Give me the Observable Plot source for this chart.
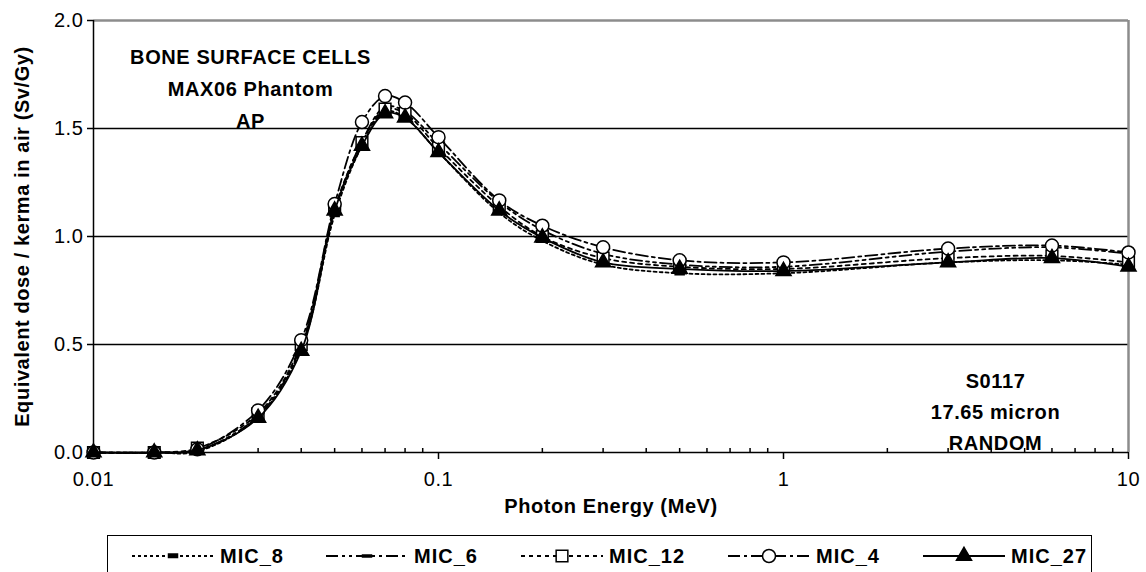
<!DOCTYPE html>
<html>
<head>
<meta charset="utf-8">
<script src="https://cdn.jsdelivr.net/npm/d3@7"></script>
<script src="https://cdn.jsdelivr.net/npm/@observablehq/plot@0.6"></script>
<style>
  body { margin: 0; background: #fff; font-family: "Liberation Sans", Arial, sans-serif; }
  #wrap { position: relative; width: 1146px; height: 572px; overflow: hidden; background: #fff; }
  #legend { position: absolute; left: 107px; top: 535px; width: 985px; height: 60px;
            border: 1.5px solid #000; box-sizing: border-box; background: #fff; }
  #legend .item { position: absolute; top: 8px; display: flex; align-items: center; }
  #legend .item span { font-weight: bold; font-size: 20px; letter-spacing: 1px; margin-left: 6px; }
</style>
</head>
<body>
<div id="wrap">
  <div id="chart"></div>
  <div id="legend"></div>
</div>
<script>
// Photon energies (MeV)
const energy = [0.01, 0.015, 0.02, 0.03, 0.04, 0.05, 0.06, 0.07, 0.08, 0.1, 0.15, 0.2, 0.3, 0.5, 1, 3, 6, 10];

// Equivalent dose / kerma in air (Sv/Gy) per micro-CT sample
const mic8  = [0, 0, 0.005, 0.165, 0.48, 1.10, 1.42, 1.58, 1.55, 1.39, 1.11, 0.98, 0.87, 0.83, 0.83, 0.88, 0.89, 0.87];
const mic6  = [0, 0, 0.010, 0.170, 0.49, 1.12, 1.44, 1.60, 1.58, 1.43, 1.16, 1.03, 0.92, 0.87, 0.86, 0.93, 0.95, 0.92];
const mic12 = [0, 0, 0.020, 0.180, 0.50, 1.13, 1.435, 1.59, 1.57, 1.41, 1.14, 1.00, 0.90, 0.86, 0.85, 0.90, 0.91, 0.88];
const mic4  = [0, 0, 0.015, 0.195, 0.52, 1.15, 1.53, 1.65, 1.62, 1.46, 1.167, 1.05, 0.95, 0.89, 0.88, 0.944, 0.958, 0.926];
const mic27 = [0, 0, 0.010, 0.160, 0.47, 1.12, 1.42, 1.57, 1.55, 1.39, 1.12, 0.995, 0.88, 0.85, 0.84, 0.88, 0.90, 0.86];

const seriesNames = ["MIC_8", "MIC_6", "MIC_12", "MIC_4", "MIC_27"];

// Axis ticks
const xTicks = [0.01, 0.1, 1, 10];
const xMinorTicks = [0.02, 0.03, 0.04, 0.05, 0.06, 0.07, 0.08, 0.09,
                     0.2, 0.3, 0.4, 0.5, 0.6, 0.7, 0.8, 0.9,
                     2, 3, 4, 5, 6, 7, 8, 9];
const yTicks = [0, 0.5, 1, 1.5, 2];
const yGrid = [0.5, 1, 1.5];
const xDomain = [0.01, 10];
const yDomain = [0, 2];

// Annotation texts
const annotLeft = ["BONE SURFACE CELLS", "MAX06 Phantom", "AP"];
const annotRight = ["S0117", "17.65 micron", "RANDOM"];

// Small marker shapes
const thickBar = { draw(ctx) { ctx.moveTo(-4.5, -2); ctx.lineTo(4.5, -2); ctx.lineTo(4.5, 1.5); ctx.lineTo(-4.5, 1.5); ctx.closePath(); } };
const thinBar  = { draw(ctx) { ctx.moveTo(-4.5, -1); ctx.lineTo(4.5, -1); ctx.lineTo(4.5, 1); ctx.lineTo(-4.5, 1); ctx.closePath(); } };

const styles = [
  { dash: "3,3",            symbol: thickBar,          r: 3,   fill: "#000" },
  { dash: "12,4,3,4,3,4",   symbol: thinBar,           r: 3,   fill: "#000" },
  { dash: "4,4",            symbol: d3.symbolSquare,   r: 6.6, fill: "#fff" },
  { dash: "12,4,3,4",       symbol: d3.symbolCircle,   r: 6.5, fill: "#fff" },
  { dash: null,             symbol: d3.symbolTriangle, r: 5.6, fill: "#000" }
];

const valueSets = [mic8, mic6, mic12, mic4, mic27];
const series = seriesNames.map((name, i) => ({
  name,
  rows: energy.map((e, j) => ({ energy: e, value: valueSets[i][j] })),
  ...styles[i]
}));

const seriesMarks = series.flatMap(s => [
  Plot.line(s.rows, { x: "energy", y: "value", curve: "catmull-rom", stroke: "#000",
                      strokeWidth: 1.8, strokeDasharray: s.dash }),
  Plot.dot(s.rows, { x: "energy", y: "value", symbol: s.symbol, r: s.r, fill: s.fill,
                     stroke: "#000", strokeWidth: 1.5 })
]);

const chart = Plot.plot({
  width: 1146,
  height: 525,
  marginLeft: 93,
  marginRight: 18,
  marginTop: 20,
  marginBottom: 73,
  x: { type: "log", domain: xDomain },
  y: { domain: yDomain },
  style: { fontFamily: "'Liberation Sans', Arial, sans-serif", fontSize: "20px",
           color: "#000", background: "#fff", letterSpacing: "0.6px" },
  marks: [
    Plot.ruleY(yGrid, { stroke: "#000", strokeWidth: 1.5 }),
    Plot.ruleY([yDomain[1]], { stroke: "#8c8c8c", strokeWidth: 2.5 }),
    Plot.ruleX([xDomain[1]], { stroke: "#8c8c8c", strokeWidth: 2.5 }),
    Plot.axisY({ ticks: yTicks, tickFormat: d3.format(".1f"), tickSize: 6, tickPadding: 4,
                 label: null, stroke: "#000", strokeWidth: 1.5 }),
    Plot.axisX({ ticks: xTicks, tickFormat: d3.format("~g"), tickSize: 7, tickPadding: 12,
                 label: null, stroke: "#000", strokeWidth: 1.5 }),
    Plot.ruleX(xMinorTicks, { y1: 0, y2: 0, insetTop: -4, stroke: "#000", strokeWidth: 1.5 }),
    Plot.ruleX([xDomain[0]], { stroke: "#000", strokeWidth: 1.5 }),
    Plot.ruleY([yDomain[0]], { stroke: "#000", strokeWidth: 1.5 }),
    ...seriesMarks,
    Plot.text([annotLeft.join("\n")], { text: d => d, frameAnchor: "top-left", dx: 157, dy: 65,
               lineAnchor: "middle", lineHeight: 1.6, textAnchor: "middle",
               fontWeight: "bold", fontSize: 20 }),
    Plot.text([annotRight.join("\n")], { text: d => d, frameAnchor: "bottom-right", dx: -133, dy: -43,
               lineAnchor: "middle", lineHeight: 1.55, textAnchor: "middle",
               fontWeight: "bold", fontSize: 20 }),
    Plot.text(["Equivalent dose / kerma in air (Sv/Gy)"], { text: d => d, frameAnchor: "left",
               dx: -71, rotate: -90, textAnchor: "middle", fontWeight: "bold", fontSize: 20,
               letterSpacing: "1px" }),
    Plot.text(["Photon Energy (MeV)"], { text: d => d, frameAnchor: "bottom", dy: 60,
               fontWeight: "bold", fontSize: 20 })
  ]
});
document.getElementById("chart").appendChild(chart);

// Legend below the chart
const legendLeft = [24, 218, 413, 620, 815];
const legend = d3.select("#legend");
series.forEach((s, i) => {
  const item = legend.append("div").attr("class", "item").style("left", legendLeft[i] + "px");
  const svg = item.append("svg").attr("width", 82).attr("height", 24);
  svg.append("line").attr("x1", 0).attr("x2", 82).attr("y1", 12).attr("y2", 12)
     .attr("stroke", "#000").attr("stroke-width", 1.8)
     .attr("stroke-dasharray", s.dash);
  svg.append("path").attr("transform", "translate(41,12)")
     .attr("d", d3.symbol(s.symbol, Math.PI * s.r * s.r)())
     .attr("fill", s.fill).attr("stroke", "#000").attr("stroke-width", 1.5);
  item.append("span").text(s.name);
});
</script>
</body>
</html>
